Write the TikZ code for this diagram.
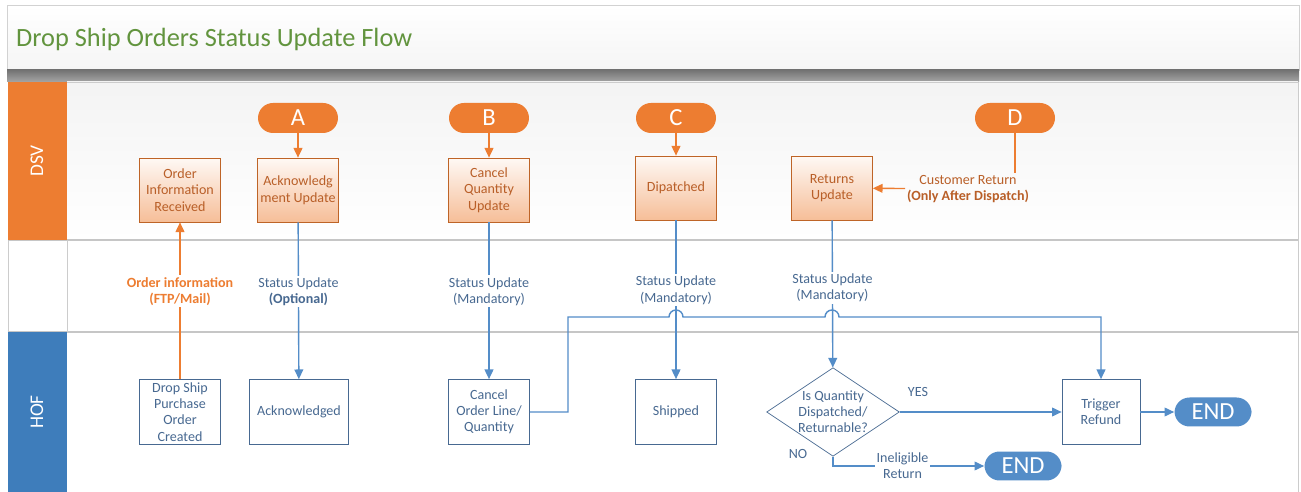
\documentclass[tikz,border=0pt]{standalone}
\usepackage{fontspec}
\setmainfont{Carlito}
\usetikzlibrary{shapes.geometric, arrows.meta, positioning, calc}
\definecolor{dsvorange}{RGB}{237,125,49}
\definecolor{dsvtext}{RGB}{185,95,40}
\definecolor{hofblue}{RGB}{62,125,187}
\definecolor{hoftext}{RGB}{72,105,145}
\definecolor{flowblue}{RGB}{84,141,200}
\definecolor{titlegreen}{RGB}{98,148,62}

\begin{document}
\begin{tikzpicture}[x=0.02cm, y=-0.02cm]
    \tikzstyle{dsvbox} = [rectangle, draw=dsvorange!80!black, top color=dsvorange!5, bottom color=dsvorange!50, minimum width=1.62cm, minimum height=1.28cm, align=center, text=dsvtext, font=\fontsize{8}{9.5}\selectfont, inner sep=1pt]
    \tikzstyle{hofbox} = [rectangle, draw=hoftext, fill=white, minimum width=1.62cm, minimum height=1.3cm, align=center, text=hoftext, font=\fontsize{8}{9.2}\selectfont, inner sep=0.5pt]
    \tikzstyle{pill} = [rectangle, rounded corners=0.3cm, fill=dsvorange, text=white, minimum width=1.6cm, minimum height=0.6cm, font=\fontsize{14}{14}\selectfont, inner sep=0pt]
    \tikzstyle{endpill} = [pill, fill=flowblue, minimum width=1.54cm, minimum height=0.58cm]
    \tikzstyle{flowlabel} = [fill=white, align=center, text=hoftext, font=\fontsize{8}{9.2}\selectfont, inner sep=1pt]
    \tikzstyle{lanelabel} = [rotate=90, text=white, font=\fontsize{11}{11}\selectfont]
    \tikzstyle{arrow} = [thick,->,>={Triangle[length=5.5pt,width=5pt]},flowblue]
    \tikzstyle{oarrow} = [thick,->,>={Triangle[length=5.5pt,width=5pt]},dsvorange]

    \useasboundingbox (0,0) rectangle (1301,492);
    \fill[white] (0,0) rectangle (1301,492);

    % title and lanes
    \draw[gray!35, top color=white, bottom color=gray!8] (7,5) rectangle (1299,70);
    \node[anchor=west, text=titlegreen, font=\fontsize{15}{15}\selectfont] (title) at (10,39) {Drop Ship Orders Status Update Flow};
    \shade[top color=gray!90!black, bottom color=gray!70] (7,70) rectangle (1299,82);
    \shade[top color=gray!9, bottom color=white] (67,82) rectangle (1298,240);
    \draw[gray!40] (8,82) rectangle (1298,492);
    \draw[gray!45, line width=1pt] (8,240) -- (1298,240);
    \draw[gray!45, line width=1pt] (8,332) -- (1298,332);
    \fill[dsvorange] (8,82) rectangle (67,240);
    \fill[hofblue] (8,332) rectangle (67,492);
    \draw[gray!40] (67,240) -- (67,332);
    \node[lanelabel] (dsv) at (37,161) {DSV};
    \node[lanelabel] (hof) at (37,412) {HOF};

    % DSV lane
    \node[pill] (A) at (298,118) {A};
    \node[pill] (B) at (489,118) {B};
    \node[pill] (C) at (676,118) {C};
    \node[pill] (D) at (1015,118) {D};
    \node[dsvbox] (oir) at (180,190) {Order\\Information\\Received};
    \node[dsvbox] (acku) at (298,190) {Acknowledg\\ment Update};
    \node[dsvbox] (cqu) at (489,190) {Cancel\\Quantity\\Update};
    \node[dsvbox] (disp) at (676,188) {Dipatched};
    \node[dsvbox] (retu) at (832,188) {Returns\\Update};
    \node[text=dsvtext, align=center, font=\fontsize{8}{9.2}\selectfont, inner sep=1pt] (cret) at (968,189) {Customer Return\\\textbf{(Only After Dispatch)}};

    % HOF lane
    \node[hofbox] (dspo) at (180,412) {Drop Ship\\Purchase\\Order\\Created};
    \node[hofbox, minimum width=1.98cm] (ackd) at (299,412) {Acknowledged};
    \node[hofbox] (col) at (489,412) {Cancel\\Order Line/\\Quantity};
    \node[hofbox] (shp) at (676,412) {Shipped};
    \node[diamond, draw=hoftext, fill=white, aspect=1.5, minimum width=2.36cm, minimum height=1.58cm, inner sep=0pt, align=center, text=hoftext, font=\fontsize{8}{9.2}\selectfont] (isq) at (833,412) {Is Quantity\\Dispatched/\\Returnable?};
    \node[hofbox, minimum width=1.56cm] (trig) at (1101,412) {Trigger\\Refund};
    \node[endpill] (end1) at (1213,412) {END};
    \node[endpill] (end2) at (1023,466) {END};
    \node[text=hoftext, font=\fontsize{8}{9.2}\selectfont] (yes) at (918,392) {YES};
    \node[text=hoftext, font=\fontsize{8}{9.2}\selectfont] (no) at (798,454) {NO};

    \draw[oarrow] (A) -- (acku);
    \draw[oarrow] (B) -- (cqu);
    \draw[oarrow] (C) -- (disp);
    \draw[thick, dsvorange] (D) -- (D |- cret.north);
    \draw[oarrow] (cret) -- (retu);
    \draw[oarrow] (dspo) -- node[flowlabel, text=dsvorange, font=\fontsize{8}{9.2}\selectfont\bfseries, pos=0.56] (oinf) {Order information\\(FTP/Mail)} (oir);
    \draw[arrow] (acku) -- node[flowlabel, pos=0.44] (su1) {Status Update\\\textbf{(Optional)}} (ackd);
    \draw[arrow] (cqu) -- node[flowlabel, pos=0.44] (su2) {Status Update\\(Mandatory)} (col);
    \draw[arrow] (disp) -- node[flowlabel, pos=0.44] (su3) {Status Update\\(Mandatory)} (shp);
    \draw[arrow] (retu) -- node[flowlabel, pos=0.46] (su4) {Status Update\\(Mandatory)} (isq);
    \draw[arrow] (col.east) -- (568,412) -- (568,317) -- (669,317) arc (180:360:7) -- (825,317) arc (180:360:7) -- (1101,317) -- (trig.north);
    \draw[arrow] (isq) -- (trig);
    \draw[arrow] (isq.south) |- node[flowlabel, pos=0.73] (inel) {Ineligible\\Return} (end2);
    \draw[arrow] (trig) -- (end1);
\end{tikzpicture}
\end{document}
